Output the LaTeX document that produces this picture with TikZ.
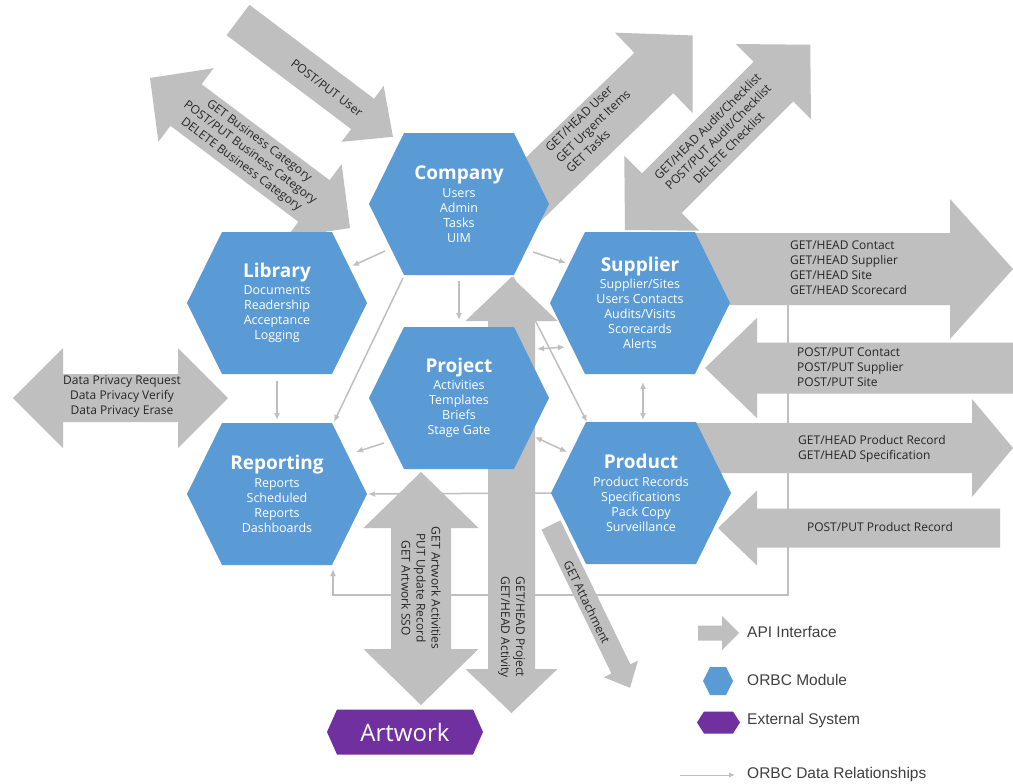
\documentclass[tikz,border=0pt]{standalone}
\usepackage{fontspec}
\setmainfont{Open Sans}
\newfontfamily\legendfont{Liberation Sans}
\usetikzlibrary{calc,arrows.meta}
\definecolor{modblue}{HTML}{5B9BD5}
\definecolor{apigray}{HTML}{BFBFBF}
\definecolor{relgray}{HTML}{BFBFBF}
\definecolor{extpurple}{HTML}{7030A0}
\definecolor{apitextc}{HTML}{262626}
\pgfdeclarelayer{rel}\pgfdeclarelayer{api}\pgfdeclarelayer{hex}
\pgfsetlayers{rel,api,hex,main}

% single block arrow: x0 y0 angle length shafthalf headhalf headlen
\newcommand\sarrow[7]{\fill[apigray,shift={(#1,#2)},rotate=#3] (0,-#5) -- ({#4-#7},-#5) -- ({#4-#7},-#6) -- (#4,0) -- ({#4-#7},#6) -- ({#4-#7},#5) -- (0,#5) -- cycle;}
% double block arrow: x0 y0 angle length shafthalf headhalf headlen
\newcommand\darrow[7]{\fill[apigray,shift={(#1,#2)},rotate=#3] (0,0) -- (#7,-#6) -- (#7,-#5) -- ({#4-#7},-#5) -- ({#4-#7},-#6) -- (#4,0) -- ({#4-#7},#6) -- ({#4-#7},#5) -- (#7,#5) -- (#7,#6) -- cycle;}
% hexagon around a named node: name halfwidth halfheight inset colour
\newcommand\hexfill[5]{\fill[#5] ($(#1.center)+(-#2,0)$) -- ($(#1.center)+({-#2+#4},-#3)$) -- ($(#1.center)+({#2-#4},-#3)$) -- ($(#1.center)+(#2,0)$) -- ($(#1.center)+({#2-#4},#3)$) -- ($(#1.center)+({-#2+#4},#3)$) -- cycle;}
\newcommand\mtitle[1]{{\fontsize{19}{19}\selectfont\bfseries #1}\\[2.5pt]}

\tikzset{
  modtext/.style={text=white, align=center, inner sep=0pt, font=\fontsize{12.5}{15}\selectfont},
  apitext/.style={text=apitextc, inner sep=0pt, font=\fontsize{12}{15}\selectfont},
  rel/.style={draw=relgray, line width=1.5pt, -{Latex[length=7pt,width=6pt]}},
  relboth/.style={draw=relgray, line width=1.5pt, {Latex[length=7pt,width=6pt]}-{Latex[length=7pt,width=6pt]}},
  legtext/.style={anchor=west, inner sep=0pt, text=black!75, font=\legendfont\fontsize{15.5}{18}\selectfont},
}

\begin{document}
\begin{tikzpicture}[x=1pt,y=-1pt]
\useasboundingbox (0,0) rectangle (1013,784);

% module nodes (text)
\node[modtext] (company) at (459,204) {\mtitle{Company}Users\\Admin\\Tasks\\UIM};
\node[modtext] (library) at (277,303) {\mtitle{Library}Documents\\Readership\\Acceptance\\Logging};
\node[modtext] (project) at (459,398) {\mtitle{Project}Activities\\Templates\\Briefs\\Stage Gate};
\node[modtext] (reporting) at (277,494) {\mtitle{Reporting}Reports\\Scheduled\\Reports\\Dashboards};
\node[modtext] (supplier) at (640,303) {\mtitle{Supplier}Supplier/Sites\\Users Contacts\\Audits/Visits\\Scorecards\\Alerts};
\node[modtext] (product) at (641,493) {\mtitle{Product}Product Records\\Specifications\\Pack Copy\\Surveillance};
\node[text=white, inner sep=0pt, font=\fontsize{24}{24}\selectfont] (artwork) at (405,732) {Artwork};

\begin{pgfonlayer}{hex}
  \foreach \n in {company,library,project,reporting,supplier,product} {\hexfill{\n}{90}{71}{35}{modblue}}
  \hexfill{artwork}{78}{22.5}{10}{extpurple}
\end{pgfonlayer}

% data relationships
\begin{pgfonlayer}{rel}
  \fill[white] (0,0) rectangle (1013,784);
  \draw[rel] ($(company.center)+(-74,47)$) -- ($(library.center)+(75,-37)$);
  \draw[rel] ($(company.center)+(74,48)$) -- ($(supplier.center)+(-74,-40)$);
  \draw[rel] ($(company.center)+(0,77)$) -- ($(project.center)+(0,-78)$);
  \draw[rel] ($(company.center)+(-56,74)$) -- ($(reporting.center)+(57,-72)$);
  \draw[rel] ($(library.center)+(0,78)$) -- ($(reporting.center)+(0,-74)$);
  \draw[rel] ($(project.center)+(-75,45)$) -- ($(reporting.center)+(79,-42)$);
  \draw[relboth] ($(project.center)+(78,-49)$) -- ($(supplier.center)+(-75,44)$);
  \draw[relboth] ($(project.center)+(76,39)$) -- ($(product.center)+(-74,-41)$);
  \draw[rel] ($(company.center)+(54,73)$) -- ($(product.center)+(-54,-71)$);
  \draw[relboth] ($(supplier.center)+(3,79)$) -- ($(product.center)+(2,-73)$);
  \draw[rel] ($(product.center)+(-88,0)$) -- ($(reporting.center)+(91,0)$);
  \coordinate (loopstart) at (788,285);
  \coordinate (loopcorner) at (333,595);
  \draw[rel] (loopstart) |- (loopcorner) -- ($(reporting.center)+(56,75)$);
\end{pgfonlayer}

% API interfaces
\begin{pgfonlayer}{api}
  \sarrow{238}{20}{-37}{194}{19}{35}{38}
  \node[apitext, rotate=-37] (tuser) at (327,88) {POST/PUT User};

  \darrow{150}{78}{-36.87}{250}{26}{46}{45}
  \node[apitext, rotate=-36.87, align=center] (tbiz) at (250,153) {GET Business Category\\POST/PUT Business Category\\DELETE Business Category};

  \sarrow{515}{207}{44}{247}{28}{56}{54}
  \node[apitext, rotate=44, align=left] (tcomp) at (593,126) {GET/HEAD User\\GET Urgent Items\\GET Tasks};

  \darrow{625}{230}{45}{262}{28}{53}{52}
  \node[apitext, rotate=45, align=center] (taudit) at (718,137) {GET/HEAD Audit/Checklist\\POST/PUT Audit/Checklist\\DELETE Checklist};

  \sarrow{680}{269}{0}{333}{36}{70}{63}
  \node[apitext, align=left, anchor=west] (tcont) at (790,268) {GET/HEAD Contact\\GET/HEAD Supplier\\GET/HEAD Site\\GET/HEAD Scorecard};

  \sarrow{1013}{368}{180}{308}{25.5}{50}{52}
  \node[apitext, align=left, anchor=west] (tpcont) at (797,367) {POST/PUT Contact\\POST/PUT Supplier\\POST/PUT Site};

  \sarrow{680}{448}{0}{333}{25}{49}{41}
  \node[apitext, align=left, anchor=west] (tprod) at (798,449) {GET/HEAD Product Record\\GET/HEAD Specification};

  \sarrow{1000}{528}{180}{282}{19.5}{37.5}{39}
  \node[apitext] (tpprod) at (880,527) {POST/PUT Product Record};

  \darrow{13}{398}{0}{215}{24}{50}{50}
  \node[apitext, align=center] (tpriv) at (122,397) {Data Privacy Request\\Data Privacy Verify\\Data Privacy Erase};

  \darrow{421}{472}{-90}{233}{30}{57.5}{56}
  \node[apitext, rotate=-90, align=center] (tart) at (421,588) {GET Artwork Activities\\PUT Update Record\\GET Artwork SSO};

  \darrow{511.5}{277}{-90}{436}{23.5}{46}{44}
  \node[apitext, rotate=-90, align=center] (tproj) at (511.5,627) {GET/HEAD Project\\GET/HEAD Activity};

  \sarrow{551}{525}{-64.1}{181}{10.5}{19}{21}
  \node[apitext, rotate=-64] (tatt) at (587,602) {GET Attachment};
\end{pgfonlayer}

% legend
\sarrow{698}{633}{0}{41}{7.5}{17}{17}
\node[legtext] (lapi) at (747,632) {API Interface};
\coordinate (lmod) at (718,681);
\hexfill{lmod}{15}{14}{7}{modblue}
\node[legtext] (lmodt) at (747,680) {ORBC Module};
\coordinate (lext) at (718.5,722.5);
\hexfill{lext}{21.5}{11}{7}{extpurple}
\node[legtext] (lextt) at (747,720) {External System};
\coordinate (lrelA) at (680,775);
\coordinate (lrelB) at (735,775);
\draw[draw=relgray, line width=1pt, -{Latex[length=6pt,width=5pt]}] (lrelA) -- (lrelB);
\node[legtext] (lrelt) at (747,774) {ORBC Data Relationships};
\end{tikzpicture}
\end{document}
